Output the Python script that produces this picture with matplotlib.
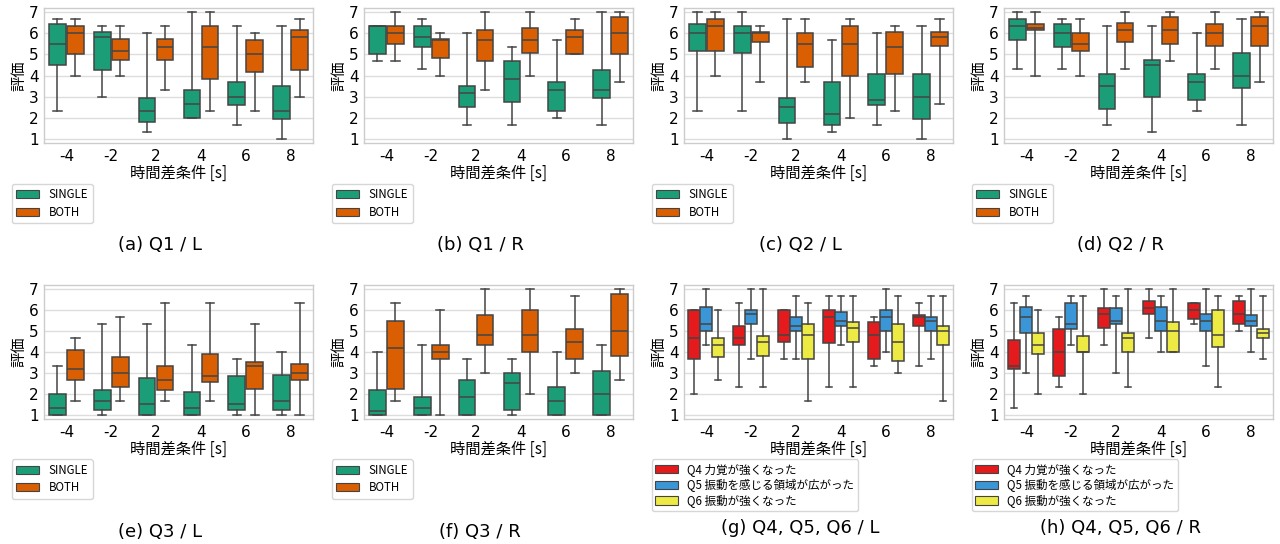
import matplotlib
matplotlib.use("Agg")
import matplotlib.pyplot as plt
from matplotlib.patches import Patch

# x categories (time difference condition, seconds)
CONDITIONS = ["-4", "-2", "2", "4", "6", "8"]

# each row: whisker low, Q1, median, Q3, whisker high
Q1L_SINGLE = [[2.33, 4.50, 5.50, 6.42, 6.67], [3.00, 4.25, 5.83, 6.08, 6.33], [1.33, 1.81, 2.33, 2.92, 6.00],
              [2.00, 2.00, 2.67, 3.33, 7.00], [1.67, 2.58, 3.00, 3.67, 6.33], [1.00, 1.92, 2.33, 3.50, 6.33]]
Q1L_BOTH = [[4.00, 5.00, 6.00, 6.33, 6.67], [4.00, 4.75, 5.17, 5.75, 6.33], [3.33, 4.75, 5.33, 5.75, 6.33],
            [2.33, 3.83, 5.33, 6.33, 7.00], [2.33, 4.17, 5.00, 5.67, 6.00], [3.00, 4.25, 5.83, 6.17, 6.67]]

Q1R_SINGLE = [[4.67, 5.00, 6.33, 6.33, 6.33], [4.33, 5.33, 5.83, 6.33, 6.67], [1.67, 2.50, 3.17, 3.50, 6.00],
              [1.67, 2.75, 3.83, 4.67, 5.33], [2.00, 2.33, 3.33, 3.67, 5.67], [1.67, 2.92, 3.33, 4.25, 7.00]]
Q1R_BOTH = [[4.67, 5.50, 6.00, 6.33, 7.00], [4.00, 4.83, 5.67, 5.75, 6.00], [3.33, 4.67, 5.67, 6.17, 7.00],
            [4.00, 5.08, 5.67, 6.25, 7.00], [5.00, 5.00, 5.83, 6.17, 6.67], [3.67, 5.00, 6.00, 6.75, 7.00]]

Q2L_SINGLE = [[2.33, 5.17, 6.00, 6.42, 7.00], [2.33, 5.08, 6.00, 6.33, 7.00], [1.00, 1.73, 2.50, 2.92, 6.67],
              [1.33, 1.67, 2.17, 3.67, 5.67], [1.67, 2.58, 2.83, 4.08, 6.00], [1.00, 1.92, 3.00, 4.08, 6.33]]
Q2L_BOTH = [[4.00, 5.17, 6.33, 6.67, 7.00], [3.67, 5.58, 6.00, 6.08, 6.33], [3.67, 4.42, 5.50, 6.00, 6.67],
            [2.00, 4.00, 5.50, 6.33, 6.67], [2.33, 4.08, 5.33, 6.08, 6.33], [2.67, 5.42, 5.83, 6.08, 6.67]]

Q2R_SINGLE = [[4.33, 5.67, 6.33, 6.67, 7.00], [4.33, 5.33, 6.00, 6.42, 6.67], [1.67, 2.42, 3.50, 4.08, 6.33],
              [1.33, 3.00, 4.50, 4.75, 6.33], [2.33, 2.83, 3.67, 4.08, 6.00], [1.67, 3.42, 4.00, 5.08, 6.67]]
Q2R_BOTH = [[4.00, 6.17, 6.25, 6.42, 7.00], [4.00, 5.17, 5.50, 6.00, 6.67], [4.33, 5.58, 6.17, 6.50, 7.00],
            [4.67, 5.50, 6.17, 6.75, 7.00], [4.33, 5.42, 6.00, 6.42, 7.00], [3.67, 5.42, 6.33, 6.75, 7.00]]

Q3L_SINGLE = [[1.00, 1.00, 1.33, 2.00, 3.33], [1.00, 1.25, 1.67, 2.17, 5.33], [1.00, 1.00, 1.50, 2.75, 5.33],
              [1.00, 1.00, 1.33, 2.08, 4.33], [1.00, 1.25, 1.50, 2.83, 3.67], [1.00, 1.25, 1.67, 2.92, 4.00]]
Q3L_BOTH = [[1.67, 2.67, 3.17, 4.08, 4.67], [1.67, 2.33, 3.00, 3.75, 5.67], [1.67, 2.17, 2.67, 3.33, 6.33],
            [1.67, 2.58, 2.83, 3.92, 6.33], [1.00, 2.25, 3.33, 3.50, 5.33], [1.00, 2.67, 3.00, 3.42, 6.33]]

Q3R_SINGLE = [[1.00, 1.00, 1.17, 2.17, 4.00], [1.00, 1.00, 1.33, 1.83, 4.33], [1.00, 1.00, 1.83, 2.67, 3.67],
              [1.00, 1.25, 2.50, 3.00, 3.67], [1.00, 1.00, 1.67, 2.33, 4.00], [1.00, 1.00, 2.00, 3.08, 4.33]]
Q3R_BOTH = [[1.67, 2.25, 4.17, 5.50, 6.33], [1.00, 3.67, 4.00, 4.33, 6.00], [3.00, 4.33, 4.83, 5.75, 7.00],
            [2.00, 4.00, 4.83, 6.00, 7.00], [3.00, 3.67, 4.50, 5.08, 6.67], [2.67, 3.83, 5.00, 6.75, 7.00]]

L_Q4 = [[2.00, 3.67, 4.67, 6.00, 6.00], [2.33, 4.33, 4.67, 5.25, 6.33], [3.67, 4.50, 4.83, 6.00, 6.00],
        [2.33, 4.42, 5.67, 6.00, 6.67], [3.33, 3.67, 4.83, 5.42, 5.67], [3.33, 5.25, 5.67, 5.75, 6.33]]
L_Q5 = [[4.33, 5.00, 5.33, 6.17, 7.00], [3.67, 5.33, 5.83, 6.00, 7.00], [3.67, 5.00, 5.25, 5.67, 6.67],
        [4.33, 5.25, 5.50, 5.92, 6.67], [4.00, 5.00, 5.67, 6.00, 7.00], [3.67, 5.00, 5.50, 5.67, 6.67]]
L_Q6 = [[2.67, 3.75, 4.33, 4.67, 6.00], [2.33, 3.83, 4.50, 4.75, 7.00], [1.67, 3.67, 4.83, 5.33, 6.33],
        [2.33, 4.50, 5.17, 5.42, 6.67], [3.00, 3.58, 4.50, 5.33, 6.67], [1.67, 4.33, 5.00, 5.25, 6.67]]

R_Q4 = [[1.33, 3.17, 3.33, 4.58, 6.33], [2.33, 2.83, 4.00, 5.08, 5.67], [4.33, 5.17, 5.83, 6.08, 7.00],
        [4.67, 5.83, 6.08, 6.42, 7.00], [5.33, 5.58, 6.00, 6.33, 6.33], [5.00, 5.33, 5.83, 6.42, 6.67]]
R_Q5 = [[3.00, 4.92, 5.67, 6.17, 6.67], [4.33, 5.08, 5.33, 6.33, 6.67], [3.00, 5.33, 5.50, 6.08, 6.67],
        [4.00, 5.00, 5.50, 6.17, 6.67], [3.33, 5.00, 5.50, 5.83, 7.00], [4.00, 5.25, 5.50, 5.75, 7.00]]
R_Q6 = [[2.00, 3.92, 4.33, 4.92, 6.00], [2.00, 4.00, 4.00, 4.75, 6.67], [2.33, 4.00, 4.67, 4.92, 7.00],
        [4.00, 4.00, 5.00, 5.42, 7.00], [2.33, 4.25, 4.83, 6.00, 6.67], [3.67, 4.67, 4.92, 5.08, 6.67]]

PAIR_LABELS = ["SINGLE", "BOTH"]
Q_LABELS = ["Q4 力覚が強くなった", "Q5 振動を感じる領域が広がった", "Q6 振動が強くなった"]
CAPTIONS = ["(a) Q1 / L", "(b) Q1 / R", "(c) Q2 / L", "(d) Q2 / R",
            "(e) Q3 / L", "(f) Q3 / R", "(g) Q4, Q5, Q6 / L", "(h) Q4, Q5, Q6 / R"]

C_PAIR = ["#1b9e77", "#d95f02"]
C_Q = ["#e41a1c", "#3a96d6", "#eeea44"]
C_EDGE = "#444444"
JP = ["Noto Sans CJK JP", "DejaVu Sans"]

plt.rcParams.update({
    "font.family": "DejaVu Sans",
    "axes.edgecolor": "#cccccc",
    "axes.linewidth": 1.0,
})


def draw_panel(ax, series, colors, labels, gap):
    n = len(series)
    slot = 0.8 / n
    for k, (vals, color) in enumerate(zip(series, colors)):
        offset = (k - (n - 1) / 2) * slot
        stats = [dict(whislo=v[0], q1=v[1], med=v[2], q3=v[3], whishi=v[4], fliers=[]) for v in vals]
        w = slot - gap
        ax.bxp(stats, positions=[i + offset for i in range(len(vals))],
               widths=w, capwidths=w * 0.5, patch_artist=True, showfliers=False,
               manage_ticks=False,
               boxprops=dict(facecolor=color, edgecolor=C_EDGE, linewidth=1.1),
               whiskerprops=dict(color=C_EDGE, linewidth=1.1),
               capprops=dict(color=C_EDGE, linewidth=1.1),
               medianprops=dict(color=C_EDGE, linewidth=1.1), zorder=3)

    ax.set_xlim(-0.5, len(CONDITIONS) - 0.5)
    ax.set_ylim(0.8, 7.2)
    ax.set_xticks(range(len(CONDITIONS)))
    ax.set_xticklabels(CONDITIONS)
    ax.set_yticks(range(1, 8))
    ax.tick_params(length=0, labelsize=11, pad=4)
    ax.grid(axis="y", color="#dddddd", linewidth=1.0, zorder=0)
    ax.set_axisbelow(True)
    ax.set_xlabel("時間差条件 [s]", family=JP, fontsize=11, labelpad=1)
    ax.set_ylabel("評価", family=JP, fontsize=11, labelpad=1)

    handles = [Patch(facecolor=c, edgecolor=C_EDGE, linewidth=0.8, label=l)
               for c, l in zip(colors, labels)]
    ax.legend(handles=handles, loc="upper left", bbox_to_anchor=(-0.12, -0.30),
              prop={"family": JP, "size": 8.3}, frameon=True, edgecolor="#cccccc",
              fancybox=True, borderaxespad=0, handletextpad=0.8,
              labelspacing=0.4 if n == 2 else 0.25, borderpad=0.4 if n == 2 else 0.3)


fig = plt.figure(figsize=(12.8, 5.44), dpi=100)

panels = [
    ([Q1L_SINGLE, Q1L_BOTH], C_PAIR, PAIR_LABELS),
    ([Q1R_SINGLE, Q1R_BOTH], C_PAIR, PAIR_LABELS),
    ([Q2L_SINGLE, Q2L_BOTH], C_PAIR, PAIR_LABELS),
    ([Q2R_SINGLE, Q2R_BOTH], C_PAIR, PAIR_LABELS),
    ([Q3L_SINGLE, Q3L_BOTH], C_PAIR, PAIR_LABELS),
    ([Q3R_SINGLE, Q3R_BOTH], C_PAIR, PAIR_LABELS),
    ([L_Q4, L_Q5, L_Q6], C_Q, Q_LABELS),
    ([R_Q4, R_Q5, R_Q6], C_Q, Q_LABELS),
]

for idx, (series, colors, labels) in enumerate(panels):
    row, col = divmod(idx, 4)
    left = 44 / 1280 + col * 0.25
    if row == 0:
        bottom, height = 1 - 143 / 544, 135 / 544
        cap_y = 1 - 245 / 544
    else:
        bottom, height = 1 - 419 / 544, 134 / 544
        cap_y = 1 - (528 if len(series) == 3 else 532) / 544
    ax = fig.add_axes([left, bottom, 269 / 1280, height])
    draw_panel(ax, series, colors, labels, gap=0.03 if len(series) == 2 else 0.0)
    fig.text(col * 0.25 + 160 / 1280, cap_y, CAPTIONS[idx], ha="center", va="center", fontsize=13)

fig.savefig("out.png", dpi=100, facecolor="white")
